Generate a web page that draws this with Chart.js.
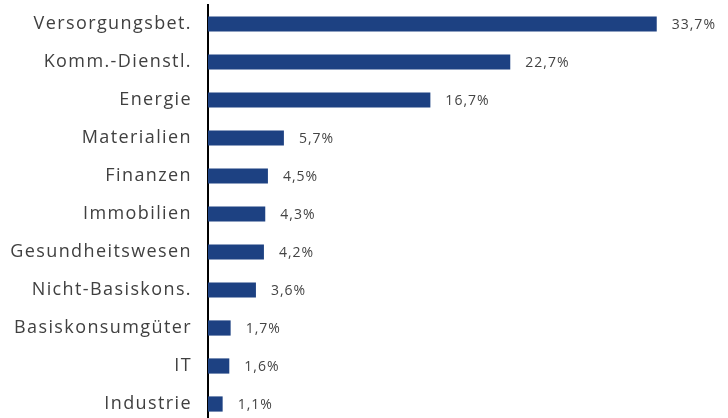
<!DOCTYPE html>
<html>
<head>
<meta charset="utf-8">
<script src="https://cdn.jsdelivr.net/npm/chart.js@4"></script>
<style>
  html, body { margin: 0; padding: 0; background: #fff; overflow: hidden; }
  #wrap { width: 728px; height: 423px; }
</style>
</head>
<body>
<div id="wrap"><canvas id="chart"></canvas></div>
<script>
const categories = ["Versorgungsbet.", "Komm.-Dienstl.", "Energie", "Materialien", "Finanzen",
  "Immobilien", "Gesundheitswesen", "Nicht-Basiskons.", "Basiskonsumgüter", "IT", "Industrie"];
const shares = [33.7, 22.7, 16.7, 5.7, 4.5, 4.3, 4.2, 3.6, 1.7, 1.6, 1.1];

const fontFamily = "'Open Sans', sans-serif";

// wider letter spacing to get closer to the original geometric font
const spacing = {
  id: 'spacing',
  beforeDraw(chart) { chart.ctx.letterSpacing = '1.4px'; }
};

// value labels next to each bar, German decimal comma
const valueLabels = {
  id: 'valueLabels',
  afterDatasetsDraw(chart) {
    const ctx = chart.ctx;
    const meta = chart.getDatasetMeta(0);
    ctx.save();
    ctx.letterSpacing = '1px';
    ctx.font = "14px " + fontFamily;
    ctx.fillStyle = "#444";
    ctx.textBaseline = "middle";
    ctx.textAlign = "left";
    meta.data.forEach((bar, i) => {
      const txt = shares[i].toFixed(1).replace('.', ',') + '%';
      ctx.fillText(txt, bar.x + 15, bar.y + 1);
    });
    ctx.restore();
  }
};

new Chart(document.getElementById('chart'), {
  type: 'bar',
  data: {
    labels: categories,
    datasets: [{
      data: shares,
      backgroundColor: "#1d4182",
      borderWidth: 0,
      barPercentage: 0.4,
      categoryPercentage: 1
    }]
  },
  options: {
    indexAxis: 'y',
    responsive: true,
    maintainAspectRatio: false,
    animation: false,
    layout: { padding: { top: 5, right: 14, left: 0, bottom: 0 } },
    plugins: { legend: { display: false }, tooltip: { enabled: false } },
    scales: {
      x: { display: false, min: 0, max: 38 },
      y: {
        grid: { display: false },
        border: { display: true, color: "#000", width: 2 },
        ticks: { color: "#404040", padding: 8, font: { family: fontFamily, size: 18 } },
        afterFit(scale) {
          scale.width = 208;
          scale.paddingTop = 0;
          scale.paddingBottom = 0;
        }
      }
    }
  },
  plugins: [spacing, valueLabels]
});
</script>
</body>
</html>
